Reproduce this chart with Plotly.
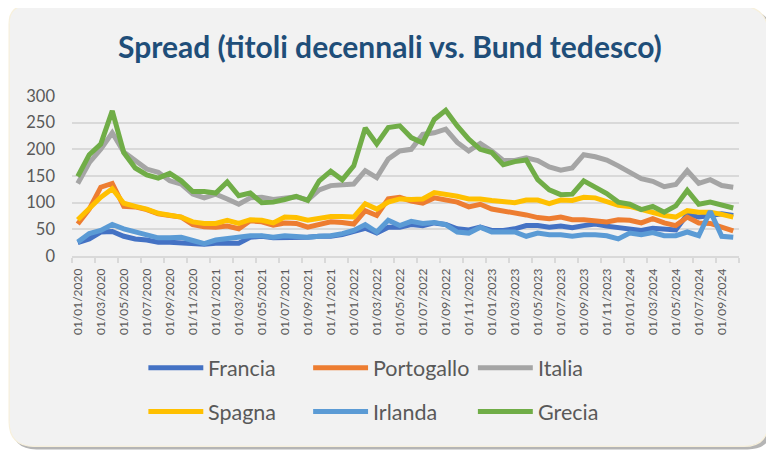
import plotly.graph_objects as go

# ---------------- data ----------------
months = [f"01/{m:02d}/{y}" for y in range(2020, 2025) for m in range(1, 13)][:58]

francia = [25, 32, 45, 46, 37, 32, 30, 26, 26, 25, 23, 22, 24, 24, 24, 35, 37, 34, 34, 35,
           35, 37, 37, 40, 45, 52, 43, 54, 54, 59, 57, 62, 59, 51, 49, 54, 48, 48, 51, 57,
           57, 54, 56, 53, 57, 60, 56, 54, 51, 48, 52, 50, 49, 78, 73, 76, 79, 76]
portogallo = [60, 88, 129, 136, 93, 92, 87, 79, 76, 73, 59, 55, 54, 56, 51, 66, 64, 58, 62, 61,
              54, 60, 64, 63, 60, 85, 76, 107, 110, 103, 99, 109, 104, 101, 92, 97, 88, 85, 80, 77,
              72, 70, 73, 68, 68, 65, 64, 68, 67, 62, 70, 62, 57, 73, 62, 61, 54, 47]
italia = [136, 175, 200, 231, 195, 179, 163, 157, 141, 135, 116, 109, 116, 107, 97, 109, 110, 106, 108, 111,
          105, 124, 132, 134, 135, 160, 147, 182, 197, 200, 228, 231, 238, 213, 197, 211, 197, 179, 179, 184,
          179, 167, 161, 165, 190, 186, 180, 169, 157, 145, 140, 130, 134, 160, 136, 143, 132, 129]
spagna = [68, 88, 110, 126, 99, 93, 88, 80, 77, 73, 64, 61, 61, 67, 61, 68, 67, 62, 73, 72,
          67, 71, 74, 74, 73, 98, 88, 101, 107, 106, 107, 119, 116, 112, 107, 107, 104, 101, 100, 105,
          105, 98, 105, 104, 110, 109, 103, 95, 93, 87, 82, 76, 73, 85, 82, 82, 78, 73]
irlanda = [26, 42, 48, 59, 51, 45, 40, 34, 34, 35, 29, 23, 30, 33, 34, 38, 38, 35, 38, 37,
           35, 37, 38, 42, 48, 59, 45, 67, 57, 65, 61, 63, 59, 45, 43, 54, 45, 45, 45, 37,
           43, 40, 40, 37, 40, 40, 38, 32, 43, 40, 44, 38, 38, 45, 38, 84, 37, 35]
grecia = [149, 190, 210, 272, 194, 165, 152, 146, 155, 141, 121, 121, 118, 139, 113, 118, 100, 101, 106, 112,
          104, 141, 159, 143, 169, 240, 210, 241, 244, 222, 212, 256, 273, 244, 219, 200, 194, 171, 177, 180,
          143, 124, 115, 116, 141, 129, 117, 101, 97, 87, 93, 82, 94, 123, 97, 101, 95, 90]

series_names = ["Francia", "Portogallo", "Italia", "Spagna", "Irlanda", "Grecia"]
series_values = [francia, portogallo, italia, spagna, irlanda, grecia]
series_colors = ["#4472C4", "#ED7D31", "#A5A5A5", "#FFC000", "#5B9BD5", "#70AD47"]

y_ticks = [0, 50, 100, 150, 200, 250, 300]
title_text = "Spread (titoli decennali vs. Bund tedesco)"

# ---------------- layout geometry ----------------
# The page body has an 8px margin, so the figure starts at page (8, 8).
OFF = 8
W, H = 774 - OFF, 450 - OFF
PL, PR, PT, PB = 71.5, 739.5, 95.5, 256.0   # plot area in page coordinates
ML, MR, MT, MB = PL - OFF, W - (PR - OFF), PT - OFF, H - (PB - OFF)
PW, PH = PR - PL, PB - PT


def X(px):  # page px -> paper
    return (px - PL) / PW


def Y(py):  # page py -> paper
    return (PB - py) / PH


fig = go.Figure()
x_idx = list(range(len(months)))
for name, vals, col in zip(series_names, series_values, series_colors):
    fig.add_trace(go.Scatter(
        x=x_idx, y=vals, name=name, mode="lines",
        line=dict(color=col, width=5, shape="linear"),
        showlegend=False, hoverinfo="skip",
    ))

shapes = []


def rounded_path(x0, y0, x1, y1, rtl, rtr, rbr, rbl):
    p = [
        f"M {X(x0 + rtl)},{Y(y0)}",
        f"L {X(x1 - rtr)},{Y(y0)}",
        f"Q {X(x1)},{Y(y0)} {X(x1)},{Y(y0 + rtr)}",
        f"L {X(x1)},{Y(y1 - rbr)}",
        f"Q {X(x1)},{Y(y1)} {X(x1 - rbr)},{Y(y1)}",
        f"L {X(x0 + rbl)},{Y(y1)}",
        f"Q {X(x0)},{Y(y1)} {X(x0)},{Y(y1 - rbl)}",
        f"L {X(x0)},{Y(y0 + rtl)}",
        f"Q {X(x0)},{Y(y0)} {X(x0 + rtl)},{Y(y0)}",
        "Z",
    ]
    return " ".join(p)


# shadow
shapes.append(dict(type="path", xref="paper", yref="paper", layer="below",
                   path=rounded_path(11, 8, 773, 450, 18, 30, 25, 25),
                   fillcolor="rgba(90,90,90,0.45)", line=dict(width=0)))
# card
shapes.append(dict(type="path", xref="paper", yref="paper", layer="below",
                   path=rounded_path(8.5, 5, 769, 447, 18, 30, 25, 25),
                   fillcolor="#F2F2F2", line=dict(color="#F7F0DC", width=1.2)))

annotations = [dict(
    text=title_text, x=X(389.5), y=Y(45), xref="paper", yref="paper",
    xanchor="center", yanchor="middle", showarrow=False,
    font=dict(family="Lato", size=30, color="#1F4E79", weight="bold"),
)]

# custom legend (3 columns x 2 rows)
leg_cols_x = [148, 313, 478]
leg_rows_y = [368, 412]
for k, (name, col) in enumerate(zip(series_names, series_colors)):
    r, c = divmod(k, 3)
    lx, ly = leg_cols_x[c], leg_rows_y[r]
    shapes.append(dict(type="line", xref="paper", yref="paper",
                       x0=X(lx), x1=X(lx + 55), y0=Y(ly), y1=Y(ly),
                       line=dict(color=col, width=5)))
    annotations.append(dict(
        text=name, x=X(lx + 58), y=Y(ly), xref="paper", yref="paper",
        xanchor="left", yanchor="middle", showarrow=False,
        font=dict(family="Lato", size=21.5, color="#595959"),
    ))

fig.update_layout(
    width=W, height=H,
    margin=dict(l=ML, r=MR, t=MT, b=MB, pad=0),
    paper_bgcolor="white",
    plot_bgcolor="rgba(0,0,0,0)",
    showlegend=False,
    shapes=shapes,
    annotations=annotations,
    xaxis=dict(
        range=[-0.5, len(months) - 0.5],
        tickmode="array",
        tickvals=x_idx[::2],
        ticktext=months[::2],
        tickangle=-90,
        ticks="",
        showgrid=False,
        zeroline=False,
        showline=True, linecolor="#D9D9D9", linewidth=1.5,
        tickfont=dict(family="Lato", size=12, color="#595959"),
        ticklabelstandoff=6,
        minor=dict(
            tickmode="array",
            tickvals=[v - 0.5 for v in x_idx[::2]] + [len(months) - 0.5],
            ticks="outside", ticklen=5, tickcolor="#D9D9D9", tickwidth=1.5,
            showgrid=False,
        ),
        fixedrange=True,
    ),
    yaxis=dict(
        range=[0, 300],
        tickmode="array",
        tickvals=y_ticks,
        ticks="",
        showgrid=True, gridcolor="#D9D9D9", gridwidth=1.5,
        zeroline=False,
        showline=False,
        tickfont=dict(family="Lato", size=16.5, color="#595959"),
        ticklabelstandoff=16,
        fixedrange=True,
    ),
)

fig.write_html("out.html")
